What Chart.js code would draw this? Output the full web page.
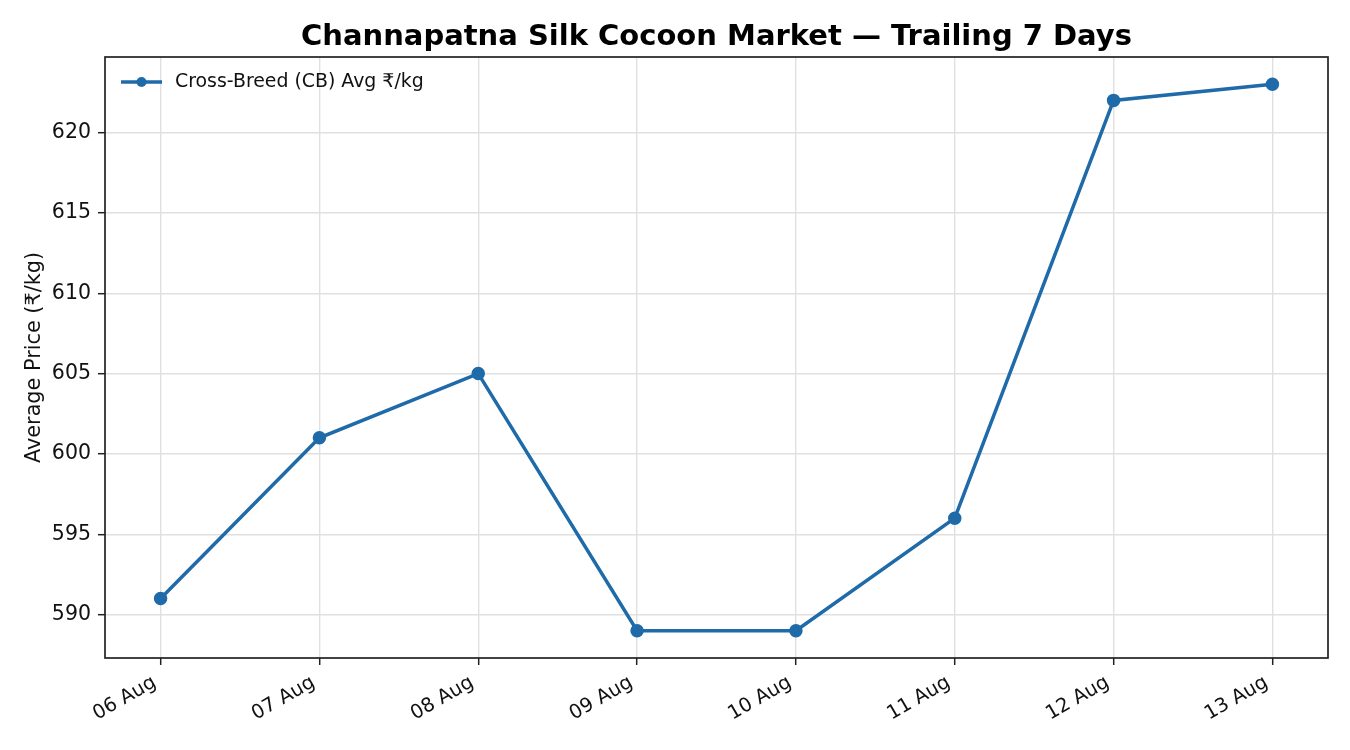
<!DOCTYPE html>
<html>
<head>
<meta charset="utf-8">
<script src="https://cdn.jsdelivr.net/npm/chart.js@4"></script>
<style>
  html, body { margin: 0; padding: 0; background: #fff; }
  #chart { display: block; }
</style>
</head>
<body>
<canvas id="chart" width="1350" height="750"></canvas>
<script>
// ---------- DATA ----------
const dates = ["06 Aug", "07 Aug", "08 Aug", "09 Aug", "10 Aug", "11 Aug", "12 Aug", "13 Aug"];
const cbPrices = [591, 601, 605, 589, 589, 596, 622, 623];
const yTicks = [590, 595, 600, 605, 610, 615, 620];
const seriesLabel = "Cross-Breed (CB) Avg ₹/kg";

const lineColor = "#1f6aa8";
const font = "DejaVu Sans";

// frame around the plot + legend inside the plot (matplotlib style)
const framePlugin = {
  id: "frame",
  afterDatasetsDraw(chart) {
    const { ctx, chartArea: a } = chart;
    ctx.save();
    ctx.strokeStyle = "#222";
    ctx.lineWidth = 1.7;
    ctx.strokeRect(a.left, a.top, a.right - a.left, a.bottom - a.top);

    // legend
    const y = a.top + 25;
    const x0 = a.left + 16;
    ctx.strokeStyle = lineColor;
    ctx.lineWidth = 3.5;
    ctx.beginPath();
    ctx.moveTo(x0, y);
    ctx.lineTo(x0 + 41, y);
    ctx.stroke();
    ctx.fillStyle = lineColor;
    ctx.beginPath();
    ctx.arc(x0 + 20.5, y, 5, 0, Math.PI * 2);
    ctx.fill();
    ctx.fillStyle = "#111";
    ctx.font = "18.9px '" + font + "'";
    ctx.textBaseline = "middle";
    ctx.fillText(seriesLabel, x0 + 54, y);
    ctx.restore();
  }
};

Chart.defaults.font.family = font;
Chart.defaults.color = "#111";

new Chart(document.getElementById("chart"), {
  type: "line",
  data: {
    datasets: [{
      label: seriesLabel,
      data: cbPrices.map((v, i) => ({ x: i, y: v })),
      borderColor: lineColor,
      backgroundColor: lineColor,
      borderWidth: 3.5,
      pointRadius: 5,
      pointHoverRadius: 5,
      tension: 0,
      clip: false
    }]
  },
  options: {
    responsive: false,
    animation: false,
    devicePixelRatio: 1,
    layout: { padding: { left: 0, right: 22, top: 0, bottom: 0 } },
    plugins: {
      legend: { display: false },
      tooltip: { enabled: false },
      title: {
        display: true,
        fullSize: false,
        text: "Channapatna Silk Cocoon Market — Trailing 7 Days",
        color: "#000",
        font: { size: 29, weight: "bold", lineHeight: 1.2 },
        padding: { top: 20, bottom: 2.2 }
      }
    },
    scales: {
      x: {
        type: "linear",
        min: -0.35,
        max: 7.35,
        afterBuildTicks: s => { s.ticks = dates.map((d, i) => ({ value: i })); },
        afterFit: s => { s.height = 92; },
        ticks: {
          callback: v => dates[v],
          font: { size: 19.5 },
          color: "#111",
          minRotation: 30,
          maxRotation: 30,
          padding: 6,
          labelOffset: -6,
          autoSkip: false
        },
        grid: { color: "#e0e0e0", lineWidth: 1.4, tickColor: "#222", tickLength: 7, tickWidth: 1.5 },
        border: { display: false }
      },
      y: {
        min: 587.3,
        max: 624.7,
        afterBuildTicks: s => { s.ticks = yTicks.map(v => ({ value: v })); },
        afterFit: s => { s.width = 105; },
        ticks: {
          font: { size: 20.5 },
          color: "#111",
          padding: 7
        },
        title: {
          display: true,
          text: "Average Price (₹/kg)",
          font: { size: 20.8 },
          color: "#111",
          padding: { top: 22, bottom: 0 }
        },
        grid: { color: "#e0e0e0", lineWidth: 1.4, tickColor: "#222", tickLength: 7, tickWidth: 1.5 },
        border: { display: false }
      }
    }
  },
  plugins: [framePlugin]
});
</script>
</body>
</html>
